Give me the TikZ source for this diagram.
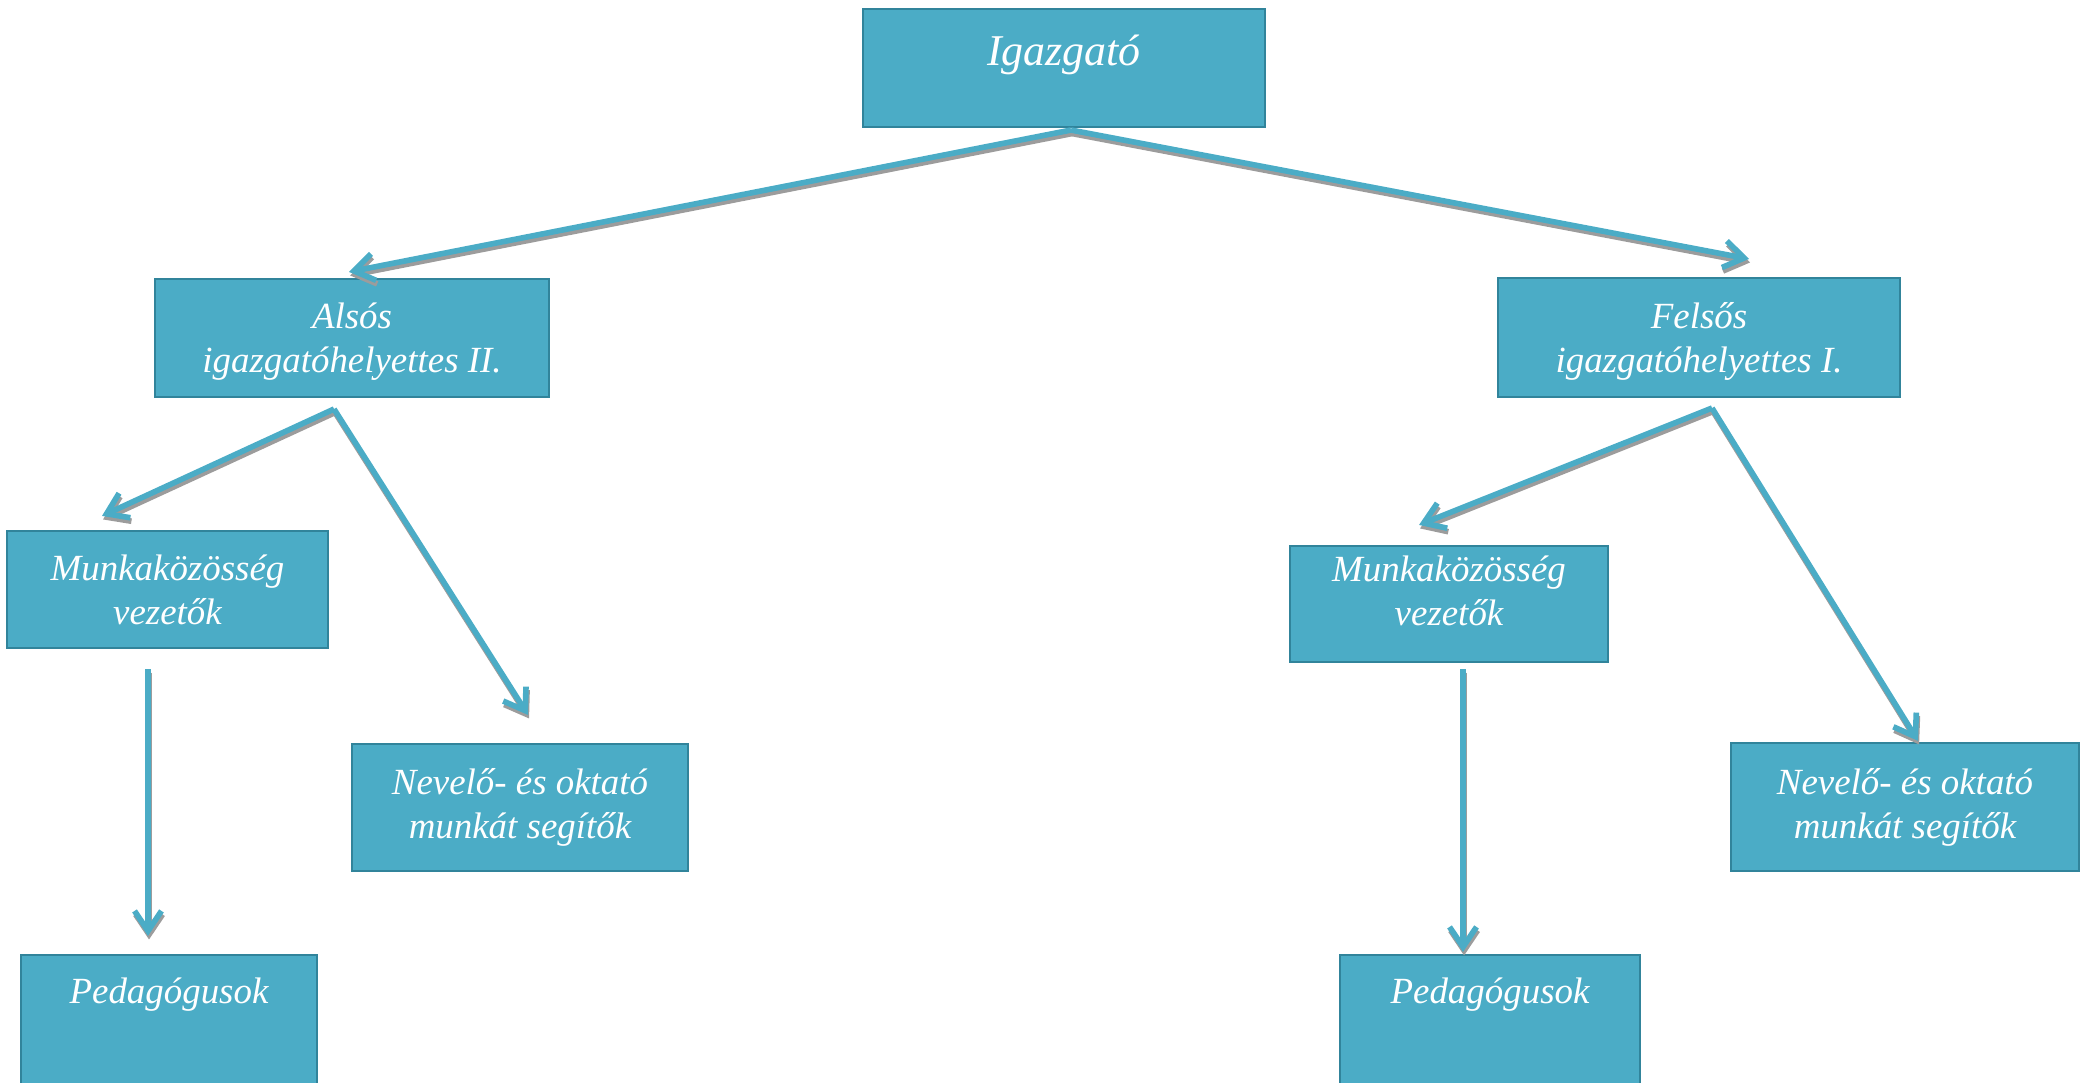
\documentclass[tikz,border=0pt]{standalone}
\usepackage{fontspec}
\setmainfont{Liberation Serif}
\usetikzlibrary{arrows.meta}
\definecolor{boxteal}{HTML}{4BACC6}
\definecolor{boxedge}{HTML}{31849B}
\definecolor{shade}{HTML}{9C9C9C}
\newcommand{\padtop}{\rule{0pt}{9.5pt}}
\newcommand{\padbot}{\rule[-7.4pt]{0pt}{7.4pt}}
\begin{document}
\begin{tikzpicture}[>={Straight Barb[length=0.2cm,width=0.27cm]},
  unit/.style 2 args={draw=boxedge,line width=0.6pt,fill=boxteal,text=white,
    inner sep=0pt,align=center,minimum width=#1,minimum height=#2,
    font=\fontsize{10.5}{12.5}\selectfont\itshape},
  link/.style={->,boxteal,line width=1.6pt,
    preaction={draw=shade,line width=1.6pt,transform canvas={xshift=0.3pt,yshift=-1pt}}}]
  \useasboundingbox (0,0) rectangle (20.91,10.82);
  \clip (0,0) rectangle (20.91,10.82);
  \node[unit={4.02cm}{1.18cm},font=\fontsize{12.5}{15}\selectfont\itshape,
    text height=9pt,text depth=10.3pt] (boss) at (10.64,10.14) {Igazgató};
  \node[unit={3.94cm}{1.18cm}] (alsos) at (3.52,7.44) {\padtop Alsós\\igazgatóhelyettes II.};
  \node[unit={4.02cm}{1.19cm}] (felsos) at (16.99,7.445) {\padtop Felsős\\igazgatóhelyettes I.};
  \node[unit={3.21cm}{1.17cm}] (munkL) at (1.675,4.925) {Munkaközösség\\vezetők};
  \node[unit={3.36cm}{1.27cm}] (nevL) at (5.20,2.745) {Nevelő- és oktató\\munkát segítők};
  \node[unit={2.96cm}{1.32cm},text height=7.5pt,text depth=17.2pt] (pedL) at (1.69,0.61) {Pedagógusok};
  \node[unit={3.18cm}{1.16cm}] (munkR) at (14.49,4.78) {Munkaközösség\\vezetők\padbot};
  \node[unit={3.48cm}{1.28cm}] (nevR) at (19.05,2.75) {Nevelő- és oktató\\munkát segítők};
  \node[unit={3.00cm}{1.32cm},text height=7.5pt,text depth=17.2pt] (pedR) at (14.90,0.61) {Pedagógusok};
  % connectors
  \draw[link] ([xshift=0.07cm,yshift=-0.02cm]boss.south) -- ([xshift=-0.03cm,yshift=0.06cm]alsos.north);
  \draw[link] ([xshift=0.07cm,yshift=-0.02cm]boss.south) -- ([xshift=0.50cm,yshift=0.18cm]felsos.north);
  \draw[link] ([xshift=-0.18cm,yshift=-0.11cm]alsos.south) -- ([xshift=-0.655cm,yshift=0.14cm]munkL.north);
  \draw[link] ([xshift=-0.18cm,yshift=-0.11cm]alsos.south) -- ([xshift=0.08cm,yshift=0.28cm]nevL.north);
  \draw[link] ([xshift=0.13cm,yshift=-0.10cm]felsos.south) -- ([xshift=-0.30cm,yshift=0.20cm]munkR.north);
  \draw[link] ([xshift=0.13cm,yshift=-0.10cm]felsos.south) -- ([xshift=0.13cm,yshift=0.01cm]nevR.north);
  \coordinate (fromL) at ([xshift=-0.195cm,yshift=-0.20cm]munkL.south);
  \coordinate (fromR) at ([xshift=0.14cm,yshift=-0.06cm]munkR.south);
  \draw[link] (fromL) -- ([yshift=0.18cm]fromL |- pedL.north);
  \draw[link] (fromR) -- ([yshift=0.02cm]fromR |- pedR.north);
\end{tikzpicture}
\end{document}
